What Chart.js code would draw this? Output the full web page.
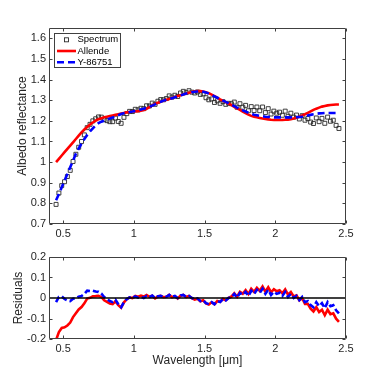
<!DOCTYPE html>
<html>
<head>
<meta charset="utf-8">
<script src="https://cdn.jsdelivr.net/npm/chart.js@4.4.0/dist/chart.umd.min.js"></script>
<style>
  html, body { margin: 0; padding: 0; background: #fff; }
  #wrap { position: relative; width: 382px; height: 382px; overflow: hidden; }
  #top { position: absolute; left: 0; top: 0; }
  #bottom { position: absolute; left: 0; top: 245px; }
</style>
</head>
<body>
<div id="wrap">
  <canvas id="top" width="382" height="245"></canvas>
  <canvas id="bottom" width="382" height="137"></canvas>
</div>
<script>
// wavelength grid, in micrometres
const wavelength = [
  0.45,0.47,0.49,0.51,0.53,0.55,0.57,0.59,0.61,0.63,
  0.65,0.67,0.69,0.71,0.73,0.75,0.77,0.79,0.81,0.83,
  0.85,0.87,0.89,0.91,0.93,0.95,0.97,0.99,1.01,1.03,
  1.05,1.07,1.09,1.11,1.13,1.15,1.17,1.19,1.21,1.23,
  1.25,1.27,1.29,1.31,1.33,1.35,1.37,1.39,1.41,1.43,
  1.45,1.47,1.49,1.51,1.53,1.55,1.57,1.59,1.61,1.63,
  1.65,1.67,1.69,1.71,1.73,1.75,1.77,1.79,1.81,1.83,
  1.85,1.87,1.89,1.91,1.93,1.95,1.97,1.99,2.01,2.03,
  2.05,2.07,2.09,2.11,2.13,2.15,2.17,2.19,2.21,2.23,
  2.25,2.27,2.29,2.31,2.33,2.35,2.37,2.39,2.41,2.43,
  2.45
];

const spectrum = [
  0.795,0.850,0.886,0.905,0.930,0.960,1.003,1.038,1.072,1.100,
  1.132,1.167,1.183,1.200,1.210,1.219,1.218,1.206,1.201,1.196,
  1.196,1.213,1.197,1.188,1.217,1.235,1.246,1.245,1.256,1.253,
  1.261,1.259,1.273,1.272,1.286,1.280,1.295,1.303,1.302,1.308,
  1.321,1.315,1.324,1.318,1.335,1.343,1.337,1.346,1.339,1.335,
  1.340,1.328,1.331,1.312,1.302,1.306,1.289,1.297,1.285,1.293,
  1.280,1.285,1.283,1.291,1.266,1.283,1.266,1.275,1.249,1.269,
  1.250,1.267,1.249,1.267,1.240,1.259,1.233,1.247,1.237,1.242,
  1.227,1.247,1.222,1.237,1.218,1.228,1.209,1.225,1.203,1.211,
  1.194,1.187,1.214,1.196,1.212,1.188,1.218,1.198,1.203,1.178,
  1.163
];

const allende = [
  1.000,1.016,1.032,1.048,1.064,1.080,1.096,1.112,1.128,1.144,
  1.158,1.170,1.182,1.192,1.201,1.208,1.213,1.217,1.220,1.223,
  1.226,1.229,1.232,1.235,1.238,1.241,1.243,1.245,1.246,1.247,
  1.249,1.252,1.258,1.266,1.275,1.282,1.288,1.293,1.298,1.302,
  1.306,1.311,1.315,1.320,1.324,1.328,1.332,1.336,1.340,1.343,
  1.344,1.344,1.342,1.338,1.334,1.327,1.320,1.312,1.304,1.297,
  1.291,1.284,1.276,1.268,1.260,1.253,1.245,1.237,1.230,1.224,
  1.220,1.217,1.214,1.211,1.209,1.207,1.205,1.204,1.204,1.204,
  1.204,1.205,1.206,1.208,1.211,1.215,1.220,1.226,1.232,1.239,
  1.246,1.253,1.259,1.264,1.269,1.272,1.275,1.277,1.278,1.279,
  1.279
];

const y86751 = [
  0.815,0.845,0.878,0.910,0.942,0.975,1.007,1.040,1.066,1.090,
  1.112,1.131,1.149,1.164,1.178,1.189,1.196,1.201,1.206,1.211,
  1.216,1.221,1.227,1.233,1.237,1.240,1.243,1.245,1.248,1.251,
  1.255,1.259,1.263,1.268,1.274,1.280,1.287,1.293,1.298,1.302,
  1.306,1.310,1.314,1.318,1.323,1.328,1.332,1.336,1.339,1.341,
  1.342,1.343,1.341,1.337,1.332,1.326,1.319,1.312,1.305,1.298,
  1.292,1.285,1.278,1.271,1.264,1.258,1.251,1.245,1.239,1.234,
  1.230,1.227,1.224,1.222,1.220,1.219,1.218,1.217,1.217,1.217,
  1.217,1.217,1.217,1.217,1.218,1.218,1.219,1.220,1.223,1.226,
  1.229,1.232,1.234,1.236,1.237,1.238,1.238,1.238,1.238,1.238,
  1.238
];

const residAllende = [
  -0.205,-0.166,-0.146,-0.143,-0.134,-0.120,-0.093,-0.074,-0.056,-0.044,
  -0.026,-0.003,0.001,0.008,0.009,0.011,0.005,-0.011,-0.019,-0.027,
  -0.030,-0.016,-0.035,-0.047,-0.021,-0.006,0.003,0.000,0.010,0.006,
  0.012,0.007,0.015,0.006,0.011,-0.002,0.007,0.010,0.004,0.006,
  0.015,0.004,0.009,-0.002,0.011,0.015,0.005,0.010,-0.001,-0.008,
  -0.004,-0.016,-0.011,-0.026,-0.032,-0.021,-0.031,-0.015,-0.019,-0.004,
  -0.011,0.001,0.007,0.023,0.006,0.030,0.021,0.038,0.019,0.045,
  0.030,0.050,0.035,0.056,0.031,0.052,0.028,0.043,0.033,0.038,
  0.023,0.042,0.016,0.029,0.007,0.013,-0.011,-0.001,-0.029,-0.028,
  -0.052,-0.066,-0.045,-0.068,-0.057,-0.084,-0.057,-0.079,-0.075,-0.101,
  -0.116
];

const residY86751 = [
  -0.020,0.005,0.008,-0.005,-0.012,-0.015,-0.004,-0.002,0.006,0.010,
  0.020,0.036,0.034,0.036,0.032,0.030,0.022,0.005,-0.005,-0.015,
  -0.020,-0.008,-0.030,-0.045,-0.020,-0.005,0.003,0.000,0.008,0.002,
  0.006,0.000,0.010,0.004,0.012,0.000,0.008,0.010,0.004,0.006,
  0.015,0.005,0.010,0.000,0.012,0.015,0.005,0.010,0.000,-0.006,
  -0.002,-0.015,-0.010,-0.025,-0.030,-0.020,-0.030,-0.015,-0.020,-0.005,
  -0.012,0.000,0.005,0.020,0.002,0.025,0.015,0.030,0.010,0.035,
  0.020,0.040,0.025,0.045,0.020,0.040,0.015,0.030,0.020,0.025,
  0.010,0.030,0.005,0.020,0.000,0.010,-0.010,0.005,-0.020,-0.015,
  -0.035,-0.045,-0.020,-0.040,-0.025,-0.050,-0.020,-0.040,-0.035,-0.060,
  -0.075
];

const xRange = [0.4, 2.5];
const xTicks = [0.5, 1, 1.5, 2, 2.5];
const yTicksTop = [0.7, 0.8, 0.9, 1, 1.1, 1.2, 1.3, 1.4, 1.5, 1.6];
const yRangeTop = [0.7, 1.65];
const yTicksRes = [-0.2, -0.1, 0, 0.1, 0.2];
const yRangeRes = [-0.2, 0.2];

Chart.defaults.font.family = '"Liberation Sans", Arial, sans-serif';
Chart.defaults.color = '#262626';

const pts = arr => wavelength.map((w, i) => ({ x: w, y: arr[i] }));
const fmt = v => String(Number(v.toFixed(2)));
const axisColor = '#404040';
const tickFont = { size: 11 };

// box round the plot with inward ticks on all four sides
const framePlugin = {
  id: 'frame',
  afterDatasetsDraw(chart) {
    const { ctx, chartArea: a } = chart;
    const xs = chart.scales.x, ys = chart.scales.y;
    const l = Math.round(a.left) + 0.5, r = Math.round(a.right) - 0.5;
    const t = Math.round(a.top) + 0.5, b = Math.round(a.bottom) - 0.5;
    ctx.save();
    ctx.strokeStyle = axisColor;
    ctx.lineWidth = 1;
    ctx.beginPath();
    ctx.rect(l, t, r - l, b - t);
    xs.ticks.forEach(tk => {
      const px = Math.round(xs.getPixelForValue(tk.value)) + 0.5;
      ctx.moveTo(px, b); ctx.lineTo(px, b - 3);
      ctx.moveTo(px, t); ctx.lineTo(px, t + 3);
    });
    ys.ticks.forEach(tk => {
      const py = Math.round(ys.getPixelForValue(tk.value)) + 0.5;
      ctx.moveTo(l, py); ctx.lineTo(l + 3, py);
      ctx.moveTo(r, py); ctx.lineTo(r - 3, py);
    });
    ctx.stroke();
    ctx.restore();
  }
};

// legend box in the top-left corner of the plot
const boxLegend = {
  id: 'boxLegend',
  afterDraw(chart) {
    const { ctx, chartArea: a } = chart;
    const bx = Math.round(a.left) + 5.5, by = Math.round(a.top) + 5.5;
    const bw = 66, bh = 34;
    ctx.save();
    ctx.fillStyle = '#fff';
    ctx.fillRect(bx, by, bw, bh);
    ctx.strokeStyle = axisColor;
    ctx.lineWidth = 1;
    ctx.strokeRect(bx, by, bw, bh);
    ctx.font = '9.5px "Liberation Sans", Arial, sans-serif';
    ctx.textBaseline = 'middle';
    chart.data.datasets.forEach((ds, i) => {
      const cy = by + 6.3 + i * 11.2;
      if (ds.showLine) {
        ctx.strokeStyle = ds.borderColor;
        ctx.lineWidth = ds.borderWidth;
        ctx.setLineDash(ds.borderDash || []);
        ctx.beginPath();
        ctx.moveTo(bx + 2.5, cy);
        ctx.lineTo(bx + 21.5, cy);
        ctx.stroke();
        ctx.setLineDash([]);
      } else {
        ctx.strokeStyle = ds.borderColor;
        ctx.lineWidth = ds.borderWidth;
        ctx.strokeRect(bx + 10, cy - 2, 4, 4);
      }
      ctx.fillStyle = '#000';
      ctx.fillText(ds.label, bx + 23, cy);
    });
    ctx.restore();
  }
};

function xAxis(height, title) {
  return {
    type: 'linear', min: xRange[0], max: xRange[1],
    grid: { display: false, drawTicks: false },
    border: { display: false },
    afterBuildTicks: s => { s.ticks = xTicks.map(v => ({ value: v })); },
    afterFit: s => { s.height = height; },
    ticks: { padding: 3, font: tickFont, color: '#262626', maxRotation: 0, autoSkip: false, callback: fmt },
    title: title
  };
}

function yAxis(range, ticks, title) {
  return {
    type: 'linear', min: range[0], max: range[1],
    grid: { display: false, drawTicks: false },
    border: { display: false },
    afterBuildTicks: s => { s.ticks = ticks.map(v => ({ value: v })); },
    afterFit: s => { s.width = 49; },
    ticks: { padding: 3, font: tickFont, color: '#262626', autoSkip: false, callback: fmt },
    title: title
  };
}

new Chart(document.getElementById('top'), {
  type: 'scatter',
  data: {
    datasets: [
      { label: 'Spectrum', data: pts(spectrum), order: 3, pointStyle: 'rect', pointRadius: 2.8,
        borderColor: '#2a2a2a', borderWidth: 0.9, backgroundColor: 'rgba(0,0,0,0)' },
      { label: 'Allende', data: pts(allende), order: 2, showLine: true, pointRadius: 0,
        borderColor: '#ff0000', borderWidth: 2.6 },
      { label: 'Y-86751', data: pts(y86751), order: 1, showLine: true, pointRadius: 0,
        borderColor: '#0000ff', borderWidth: 2.6, borderDash: [7, 4] }
    ]
  },
  options: {
    responsive: false, animation: false, events: [],
    layout: { padding: { left: 0, right: 36, top: 28, bottom: 0 } },
    plugins: { legend: { display: false }, tooltip: { enabled: false } },
    scales: {
      x: xAxis(21, { display: false }),
      y: yAxis(yRangeTop, yTicksTop, { display: true, text: 'Albedo reflectance', color: '#262626',
        font: { size: 12 }, padding: { top: 15, bottom: 0 } })
    }
  },
  plugins: [framePlugin, boxLegend]
});

new Chart(document.getElementById('bottom'), {
  type: 'scatter',
  data: {
    datasets: [
      { label: 'zero', data: [{ x: xRange[0], y: 0 }, { x: xRange[1], y: 0 }], order: 0,
        showLine: true, pointRadius: 0, borderColor: '#000', borderWidth: 1.3 },
      { label: 'Y-86751', data: pts(residY86751), order: 1, showLine: true, pointRadius: 0,
        borderColor: '#0000ff', borderWidth: 2.6, borderDash: [6, 3] },
      { label: 'Allende', data: pts(residAllende), order: 2, showLine: true, pointRadius: 0,
        borderColor: '#ff0000', borderWidth: 2.6 }
    ]
  },
  options: {
    responsive: false, animation: false, events: [],
    layout: { padding: { left: 0, right: 36, top: 12, bottom: 0 } },
    plugins: { legend: { display: false }, tooltip: { enabled: false } },
    scales: {
      x: xAxis(43, { display: true, text: 'Wavelength [\u03bcm]', color: '#262626',
        font: { size: 12 }, padding: { top: 0, bottom: 14 } }),
      y: yAxis(yRangeRes, yTicksRes, { display: true, text: 'Residuals', color: '#262626',
        font: { size: 12 }, padding: { top: 11, bottom: 0 } })
    }
  },
  plugins: [framePlugin]
});
</script>
</body>
</html>
